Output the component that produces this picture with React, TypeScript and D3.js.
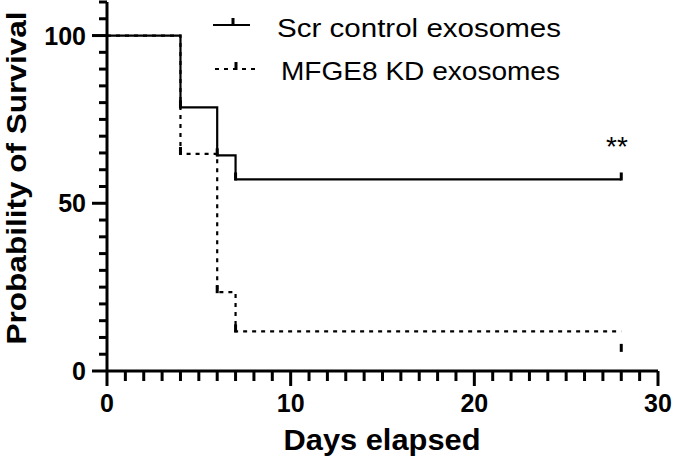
import React from "react";
import * as d3 from "d3";

const scrTimes = [0, 4, 6, 7, 28];
const scrSurv = [100, 78.6, 64.3, 57.1, 57.1];
const scrMarks: [number, number][] = [[4, 78.6], [6, 64.3], [7, 57.1], [28, 57.1]];

const kdTimes = [0, 4, 6, 7, 28];
const kdSurv = [100, 64.7, 23.5, 11.8, 11.8];
const kdMarks: [number, number][] = [[4, 64.7], [6, 23.5], [7, 11.8], [28, 6]];

const xTicksMajor = [0, 10, 20, 30];
const yTicksMajor = [0, 50, 100];
const legendLabels = ["Scr control exosomes", "MFGE8 KD exosomes"];

const W = 675;
const H = 468;
const FONT = "Liberation Sans, Arial, sans-serif";

export default function App() {
  const x = d3.scaleLinear().domain([0, 30]).range([107, 658]);
  const y = d3.scaleLinear().domain([0, 110]).range([371, 2]);
  const stepLine = d3
    .line<[number, number]>()
    .x((d) => x(d[0]))
    .y((d) => y(d[1]))
    .curve(d3.curveStepAfter);

  const scrPts = scrTimes.map((t, i) => [t, scrSurv[i]] as [number, number]);
  const kdPts = kdTimes.map((t, i) => [t, kdSurv[i]] as [number, number]);

  const xMinor = d3.range(0, 31, 1);
  const yMinor = d3.range(0, 111, 5);

  return (
    <svg width={W} height={H} style={{ position: "absolute", left: 0, top: 0, background: "#fff" }}>
      <rect width={W} height={H} fill="#fff" />
      {/* KD dotted */}
      <path d={stepLine(kdPts) || ""} fill="none" stroke="#000" strokeWidth={2.2} strokeDasharray="4,5" />
      {kdMarks.map(([t, v], i) => (
        <rect key={"km" + i} x={x(t) - 1.5} y={y(v) - 7} width={3} height={8} fill="#000" />
      ))}
      {/* Scr solid */}
      <path d={stepLine(scrPts) || ""} fill="none" stroke="#000" strokeWidth={2.2} />
      {scrMarks.map(([t, v], i) => (
        <rect key={"sm" + i} x={x(t) - 1.5} y={y(v) - 7} width={3} height={8} fill="#000" />
      ))}

      {/* axes */}
      <line x1={x(0)} x2={x(30)} y1={y(0)} y2={y(0)} stroke="#000" strokeWidth={3} />
      <line x1={x(0)} x2={x(0)} y1={y(0)} y2={y(110)} stroke="#000" strokeWidth={3} />
      {xMinor.map((t) => {
        const major = xTicksMajor.includes(t);
        return (
          <line key={"xt" + t} x1={x(t)} x2={x(t)} y1={y(0)} y2={y(0) + (major ? 15 : 10)} stroke="#000" strokeWidth={3} />
        );
      })}
      {yMinor.map((v) => {
        const major = yTicksMajor.includes(v);
        return (
          <line key={"yt" + v} x1={x(0) - (major ? 15 : 8)} x2={x(0)} y1={y(v)} y2={y(v)} stroke="#000" strokeWidth={3} />
        );
      })}
      {xTicksMajor.map((t) => (
        <text key={"xl" + t} x={x(t)} y={412} textAnchor="middle" fontFamily={FONT} fontWeight="bold" fontSize={25}>
          {t}
        </text>
      ))}
      {yTicksMajor.map((v) => (
        <text key={"yl" + v} x={86} y={y(v) + 9} textAnchor="end" fontFamily={FONT} fontWeight="bold" fontSize={25}>
          {v}
        </text>
      ))}
      <text x={382} y={450} textAnchor="middle" fontFamily={FONT} fontWeight="bold" fontSize={30} textLength={197} lengthAdjust="spacingAndGlyphs">
        Days elapsed
      </text>
      <text
        transform={`translate(26,178) rotate(-90)`}
        textAnchor="middle"
        fontFamily={FONT}
        fontWeight="bold"
        fontSize={28}
        textLength={333}
        lengthAdjust="spacingAndGlyphs"
      >
        Probability of Survival
      </text>

      {/* legend */}
      <line x1={213} x2={250} y1={25} y2={25} stroke="#000" strokeWidth={2.2} />
      <rect x={231.5} y={18} width={3} height={8} fill="#000" />
      <text x={277} y={37} fontFamily={FONT} fontSize={26} textLength={284} lengthAdjust="spacingAndGlyphs">
        {legendLabels[0]}
      </text>
      <line x1={215} x2={259} y1={69} y2={69} stroke="#000" strokeWidth={2.2} strokeDasharray="4,5" />
      <rect x={234.5} y={62} width={3} height={8} fill="#000" />
      <text x={281} y={80} fontFamily={FONT} fontSize={26} textLength={279} lengthAdjust="spacingAndGlyphs">
        {legendLabels[1]}
      </text>

      <text x={617} y={156} textAnchor="middle" fontFamily={FONT} fontSize={28}>
        **
      </text>
    </svg>
  );
}
